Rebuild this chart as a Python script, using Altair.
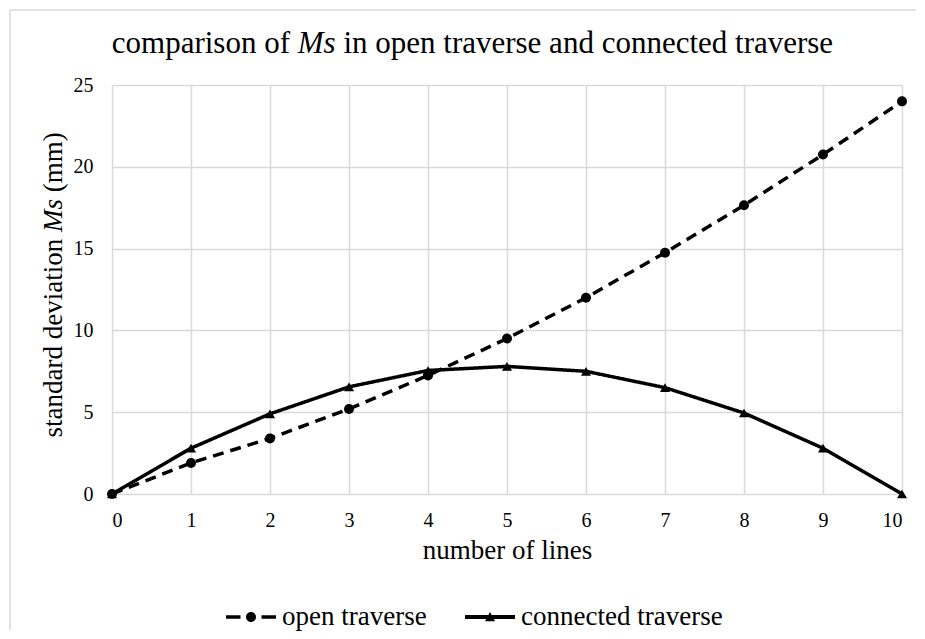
import altair as alt
import pandas as pd

# ---- data ----
lines_x = list(range(11))
open_traverse = [0, 1.9, 3.4, 5.2, 7.25, 9.5, 12.0, 14.75, 17.65, 20.75, 24.0]
connected_traverse = [0, 2.8, 4.9, 6.55, 7.55, 7.8, 7.5, 6.5, 4.95, 2.8, 0]
series_names = ["open traverse", "connected traverse"]
x_ticks = list(range(11))
y_ticks = [0, 5, 10, 15, 20, 25]

title_a = "comparison of"
title_b = "Ms"
title_c = "in open traverse and connected traverse"
ytitle_a = "standard deviation"
ytitle_b = "Ms"
ytitle_c = "(mm)"
xtitle = "number of lines"

FONT = "'Liberation Serif', 'Times New Roman', Times, serif"
GRID = "#d9d9d9"

rows = []
for name, vals in zip(series_names, [open_traverse, connected_traverse]):
    for xv, yv in zip(lines_x, vals):
        rows.append({"lines": xv, "ms": yv, "series": name})
df = pd.DataFrame(rows)
one = pd.DataFrame({"k": [0]})

xenc = alt.X("lines:Q", scale=alt.Scale(domain=[0, 10], nice=False),
             axis=alt.Axis(values=x_ticks, title=xtitle, labelPadding=16,
                           titlePadding=7, format="d"))
yenc = alt.Y("ms:Q", scale=alt.Scale(domain=[0, 25], nice=False),
             axis=alt.Axis(values=y_ticks, title=None, labelPadding=19, format="d"))

base = alt.Chart(df)

lines = base.mark_line(color="black", strokeWidth=3.5).encode(
    x=xenc, y=yenc,
    strokeDash=alt.StrokeDash("series:N",
                              scale=alt.Scale(domain=series_names, range=[[11, 7], [1, 0]]),
                              legend=None),
)

points = base.mark_point(filled=True, color="black", opacity=1, size=100).encode(
    x=xenc, y=yenc,
    shape=alt.Shape("series:N",
                    scale=alt.Scale(domain=series_names, range=["circle", "triangle-up"]),
                    legend=None),
)

path_open = ("M-1,-0.07L-0.42,-0.07L-0.42,0.07L-1,0.07Z "
             "M0.42,-0.07L1,-0.07L1,0.07L0.42,0.07Z "
             "M0.2,0A0.2,0.2,0,1,1,-0.2,0A0.2,0.2,0,1,1,0.2,0Z")
path_conn = ("M-1,-0.08L1,-0.08L1,0.08L-1,0.08Z "
             "M-0.2,0.17L0,-0.2L0.2,0.17Z")

legend_carrier = base.transform_filter("false").mark_point(
    filled=True, color="black", opacity=1).encode(
    x=xenc, y=yenc,
    shape=alt.Shape("series:N",
                    scale=alt.Scale(domain=series_names, range=[path_open, path_conn]),
                    legend=alt.Legend(title=None, orient="none", legendX=114, legendY=507,
                                      direction="horizontal", symbolSize=2500,
                                      labelOffset=6, columnPadding=38, padding=0,
                                      labelFont=FONT, labelFontSize=27, labelLimit=600,
                                      labelColor="black", symbolStrokeWidth=0,
                                      symbolOpacity=1, symbolFillColor="black")),
)

# chart-area border (only top and left edges are visible in the reference)
frame_left = alt.Chart(one).mark_rule(stroke=GRID, strokeWidth=1.5).encode(
    x=alt.value(-102), y=alt.value(-75), y2=alt.value(545))
frame_top = alt.Chart(one).mark_rule(stroke=GRID, strokeWidth=1.5).encode(
    x=alt.value(-102), x2=alt.value(804), y=alt.value(-75))

def txt(s, x, y, size, align, italic=False, angle=0):
    kw = dict(text=s, font=FONT, fontSize=size, align=align, baseline="alphabetic",
              color="black")
    if italic:
        kw["fontStyle"] = "italic"
    if angle:
        kw["angle"] = angle
    return alt.Chart(one).mark_text(**kw).encode(x=alt.value(x), y=alt.value(y))

t1 = txt(title_a, 178, -32, 31, "right")
t2 = txt(title_b, 185.75, -32, 31, "left", italic=True)
t3 = txt(title_c, 231.4, -32, 31, "left")

y1 = txt(ytitle_a, -50, 153.75, 27, "right", angle=270)
y2 = txt(ytitle_b, -50, 147, 27, "left", italic=True, angle=270)
y3 = txt(ytitle_c, -50, 107.25, 27, "left", angle=270)

chart = alt.layer(frame_left, frame_top, lines, points, legend_carrier,
                  t1, t2, t3, y1, y2, y3).resolve_scale(
    shape="independent", strokeDash="independent"
).properties(
    width=790, height=409,
    autosize=alt.AutoSizeParams(type="none"),
    padding={"left": 104, "top": 77, "right": 15, "bottom": 137},
).configure_view(strokeWidth=0).configure_axis(
    labelFont=FONT, labelFontSize=20, labelColor="black",
    titleFont=FONT, titleFontSize=27, titleFontWeight="normal", titleColor="black",
    domain=False, ticks=False, grid=True, gridColor=GRID, gridWidth=1.5,
)

chart.save("out.html", embed_options={"renderer": "svg", "actions": False})
